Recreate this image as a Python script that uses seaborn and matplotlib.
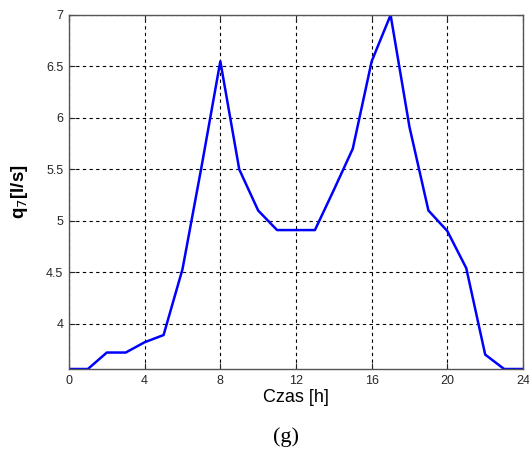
import matplotlib
matplotlib.use("Agg")
import matplotlib.pyplot as plt
import seaborn as sns
import pandas as pd

hours = list(range(25))
flow = [3.56, 3.56, 3.72, 3.72, 3.82, 3.89, 4.53, 5.52, 6.55, 5.5, 5.1, 4.91, 4.91,
        4.91, 5.3, 5.7, 6.55, 7.0, 5.91, 5.1, 4.9, 4.54, 3.7, 3.56, 3.56]
xticks = [0, 4, 8, 12, 16, 20, 24]
yticks = [4, 4.5, 5, 5.5, 6, 6.5, 7]

df = pd.DataFrame({"h": hours, "q": flow})

sns.set_style("white")
plt.rcParams["font.family"] = ["Liberation Sans", "DejaVu Sans"]

fig = plt.figure(figsize=(5.29, 4.5), dpi=100)
ax = fig.add_axes([0.1304, 0.18, 0.8583, 0.7867])
sns.lineplot(data=df, x="h", y="q", ax=ax, color="#0000ff", linewidth=1.8)

ax.set_xlim(0, 24)
ax.set_ylim(3.56, 7.0)
ax.set_xticks(xticks)
ax.set_xticklabels([str(t) for t in xticks])
ax.set_yticks(yticks)
ax.set_yticklabels(["4", "4.5", "5", "5.5", "6", "6.5", "7"])
ax.grid(True, color="black", linestyle=(0, (3, 3)), linewidth=0.8)
ax.tick_params(direction="in", length=4, labelsize=9, colors="#262626",
               top=True, right=True, bottom=True, left=True, pad=4)
for s in ax.spines.values():
    s.set_color("#555555")
    s.set_linewidth(1.0)
ax.set_xlabel("Czas [h]", fontsize=13, labelpad=2, color="black")
ax.set_ylabel("q$_7$[l/s]", fontsize=13.5, labelpad=12, fontweight="bold",
              color="black")
fig.text(0.54, 0.029, "(g)", ha="center", va="center", fontsize=16,
         family="Liberation Serif", color="black")

fig.savefig("out.png", dpi=100)
